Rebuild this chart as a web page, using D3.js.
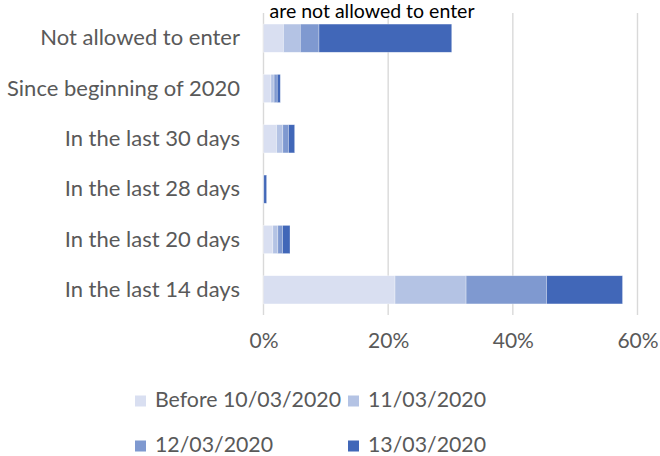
<!DOCTYPE html>
<html>
<head>
<meta charset="utf-8">
<script src="https://cdn.jsdelivr.net/npm/d3@7"></script>
<style>
  html, body { margin: 0; padding: 0; background: #fff; }
  svg { display: block; }
</style>
</head>
<body>
<svg id="chart" width="660" height="456"></svg>
<script>
// ---- data ----
const titleText = "are not allowed to enter";
const categories = [
  "Not allowed to enter",
  "Since beginning of 2020",
  "In the last 30 days",
  "In the last 28 days",
  "In the last 20 days",
  "In the last 14 days"
];
const seriesNames = ["Before 10/03/2020", "11/03/2020", "12/03/2020", "13/03/2020"];
const seriesColors = ["#D9DFF1", "#B4C3E4", "#7F99D0", "#4167B8"];
// values in percent, one array per series, in category order
const before10 = [3.2, 1.2, 2.1, 0.0, 1.5, 21.1];
const mar11    = [2.7, 0.5, 1.0, 0.0, 0.8, 11.4];
const mar12    = [3.0, 0.5, 0.9, 0.05, 0.75, 12.9];
const mar13    = [21.3, 0.5, 1.0, 0.45, 1.2, 12.2];
const tickValues = [0, 20, 40, 60];

// ---- layout ----
const svg = d3.select("#chart");
const plot = { left: 263.5, right: 637.5, top: 13, bottom: 315 };
const font = "Lato, 'Open Sans', sans-serif";
const textColor = "#595959";

const x = d3.scaleLinear().domain([0, 60]).range([plot.left, plot.right]);
const y = d3.scaleBand().domain(categories).range([plot.top, plot.bottom]).paddingInner(0.44).paddingOuter(0.22);

// gridlines
svg.append("g").selectAll("line").data(tickValues).join("line")
  .attr("x1", d => x(d)).attr("x2", d => x(d))
  .attr("y1", plot.top).attr("y2", plot.bottom)
  .attr("stroke", "#D9D9D9").attr("stroke-width", 1.4);

// stacked data
const rows = categories.map((c, i) => ({
  cat: c, s0: before10[i], s1: mar11[i], s2: mar12[i], s3: mar13[i]
}));
const stack = d3.stack().keys(["s0", "s1", "s2", "s3"]);
const stacked = stack(rows);

svg.append("g").selectAll("g").data(stacked).join("g")
  .attr("fill", (d, i) => seriesColors[i])
  .selectAll("rect").data(d => d).join("rect")
  .attr("x", d => x(d[0]))
  .attr("width", d => Math.max(0, x(d[1]) - x(d[0])))
  .attr("y", d => y(d.data.cat))
  .attr("height", y.bandwidth())
  .attr("stroke", "#ffffff").attr("stroke-width", 0.6).attr("stroke-opacity", 0.5);

// category labels
const yAxis = d3.axisLeft(y).tickSize(0).tickPadding(0);
const gy = svg.append("g").attr("transform", `translate(240,0)`).call(yAxis);
gy.select(".domain").remove();
gy.selectAll("text").attr("fill", textColor).style("font-family", font).style("font-size", "22px");

// x tick labels
const xAxis = d3.axisBottom(x).tickValues(tickValues).tickSize(0).tickPadding(0).tickFormat(d => d + "%");
const gx = svg.append("g").attr("transform", `translate(0,333)`).call(xAxis);
gx.select(".domain").remove();
gx.selectAll("text").attr("fill", textColor).style("font-family", font).style("font-size", "21px");

// title
svg.append("text").attr("x", 372).attr("y", 18).attr("text-anchor", "middle")
  .attr("fill", "#000").style("font-family", font).style("font-size", "19.5px").text(titleText);

// legend
const legendPos = [[135, 406.5], [348, 406.5], [135, 451.5], [348, 451.5]];
const lg = svg.append("g").selectAll("g").data(seriesNames).join("g")
  .attr("transform", (d, i) => `translate(${legendPos[i][0]},${legendPos[i][1]})`);
lg.append("rect").attr("x", 0).attr("y", -11).attr("width", 11).attr("height", 11)
  .attr("fill", (d, i) => seriesColors[i]);
lg.append("text").attr("x", 20).attr("y", 0).attr("fill", textColor)
  .style("font-family", font).style("font-size", "21.3px").text(d => d);
</script>
</body>
</html>
